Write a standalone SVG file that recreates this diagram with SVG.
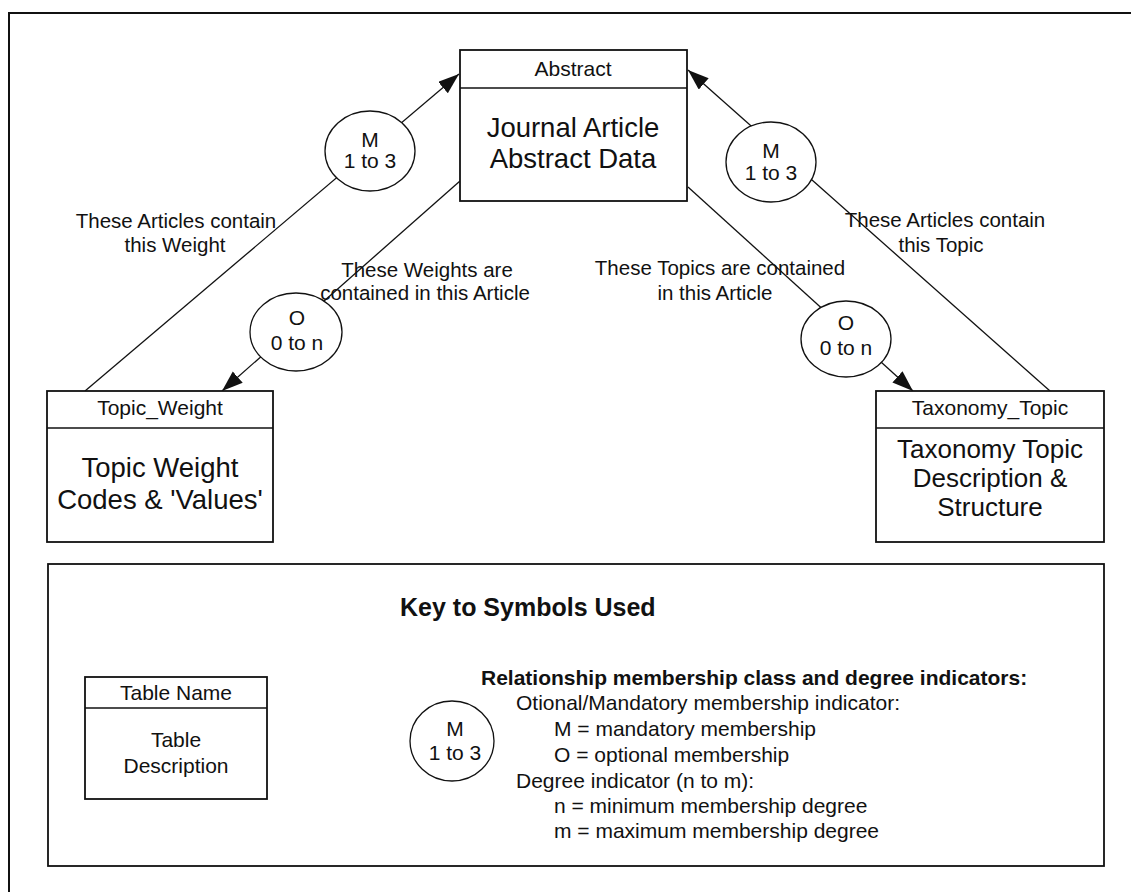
<svg xmlns="http://www.w3.org/2000/svg" width="1131" height="892" viewBox="0 0 1131 892">
<style>
text{font-family:"Liberation Sans",Arial,sans-serif;fill:#111;}
.box{fill:#fff;stroke:#111;stroke-width:1.8;}
.div{stroke:#111;stroke-width:1.6;}
.hdr{font-size:21px;text-anchor:middle;}
.body{font-size:27.5px;text-anchor:middle;}
.ell{fill:#fff;stroke:#111;stroke-width:1.3;}
.et{font-size:21px;text-anchor:middle;}
.lbl{font-size:20.5px;text-anchor:middle;}
.conn{stroke:#111;stroke-width:1.3;fill:none;marker-end:url(#ah);}
.leg{font-size:21px;}
.frame{stroke:#111;stroke-width:2;fill:none;}
</style>
<defs>
<marker id="ah" markerUnits="userSpaceOnUse" markerWidth="22" markerHeight="16" refX="21" refY="7.5" orient="auto">
<path d="M0,0 L21,7.5 L0,15 z" fill="#111"/>
</marker>
</defs>
<rect width="1131" height="892" fill="#fff"/>
<g id="frame">
<path class="frame" d="M9,892 L9,13 L1131,13"/>
</g>
<g id="connectors">
<line class="conn" x1="85" y1="391" x2="459" y2="74"/>
<line class="conn" x1="460" y1="181" x2="222" y2="391"/>
<line class="conn" x1="1050" y1="391" x2="688" y2="70"/>
<line class="conn" x1="688" y1="187" x2="913" y2="391"/>
</g>
<g id="abstract">
<rect class="box" x="460" y="50" width="227" height="151"/>
<line class="div" x1="460" y1="88" x2="687" y2="88"/>
<text class="hdr" x="573" y="76">Abstract</text>
<text class="body" x="573" y="137">Journal Article</text>
<text class="body" x="573" y="168">Abstract Data</text>
</g>
<g id="topic_weight">
<rect class="box" x="47" y="391" width="226" height="151"/>
<line class="div" x1="47" y1="428" x2="273" y2="428"/>
<text class="hdr" x="160" y="415">Topic_Weight</text>
<text class="body" x="160" y="477">Topic Weight</text>
<text class="body" x="160" y="509">Codes &amp; 'Values'</text>
</g>
<g id="taxonomy_topic">
<rect class="box" x="876" y="391" width="228" height="151"/>
<line class="div" x1="876" y1="428" x2="1104" y2="428"/>
<text class="hdr" x="990" y="415">Taxonomy_Topic</text>
<text class="body" x="990" y="458" style="font-size:26px">Taxonomy Topic</text>
<text class="body" x="990" y="487" style="font-size:26px">Description &amp;</text>
<text class="body" x="990" y="516" style="font-size:26px">Structure</text>
</g>
<g id="rel_left_m">
<ellipse class="ell" cx="370" cy="151" rx="45" ry="40"/>
<text class="et" x="370" y="147">M</text>
<text class="et" x="370" y="168">1 to 3</text>
</g>
<g id="rel_left_o">
<ellipse class="ell" cx="296" cy="332" rx="46" ry="39"/>
<text class="et" x="297" y="325">O</text>
<text class="et" x="297" y="350">0 to n</text>
</g>
<g id="rel_right_m">
<ellipse class="ell" cx="771" cy="162" rx="45" ry="40"/>
<text class="et" x="771" y="158">M</text>
<text class="et" x="771" y="180">1 to 3</text>
</g>
<g id="rel_right_o">
<ellipse class="ell" cx="846" cy="339" rx="45" ry="38"/>
<text class="et" x="846" y="330">O</text>
<text class="et" x="846" y="355">0 to n</text>
</g>
<g id="labels">
<text class="lbl" x="176" y="228">These Articles contain</text>
<text class="lbl" x="175" y="252">this Weight</text>
<text class="lbl" x="427" y="277">These Weights are</text>
<text class="lbl" x="425" y="300">contained in this Article</text>
<text class="lbl" x="720" y="275">These Topics are contained</text>
<text class="lbl" x="715" y="300">in this Article</text>
<text class="lbl" x="945" y="227">These Articles contain</text>
<text class="lbl" x="941" y="252">this Topic</text>
</g>
<g id="key">
<rect class="box" x="48" y="564" width="1056" height="302"/>
<text x="400" y="616" style="font-size:25px;font-weight:bold;">Key to Symbols Used</text>
<g id="key_table">
<rect class="box" x="85" y="677" width="182" height="122"/>
<line class="div" x1="85" y1="708" x2="267" y2="708"/>
<text class="hdr" x="176" y="700">Table Name</text>
<text class="hdr" x="176" y="747">Table</text>
<text class="hdr" x="176" y="773">Description</text>
</g>
<g id="key_rel">
<ellipse class="ell" cx="452" cy="741" rx="42" ry="40"/>
<text class="et" x="455" y="736">M</text>
<text class="et" x="455" y="760">1 to 3</text>
</g>
<text class="leg" x="481" y="685" style="font-weight:bold;">Relationship membership class and degree indicators:</text>
<text class="leg" x="516" y="710">Otional/Mandatory membership indicator:</text>
<text class="leg" x="554" y="736">M = mandatory membership</text>
<text class="leg" x="554" y="762">O = optional membership</text>
<text class="leg" x="516" y="788">Degree indicator (n to m):</text>
<text class="leg" x="554" y="813">n = minimum membership degree</text>
<text class="leg" x="554" y="838">m = maximum membership degree</text>
</g>
</svg>
